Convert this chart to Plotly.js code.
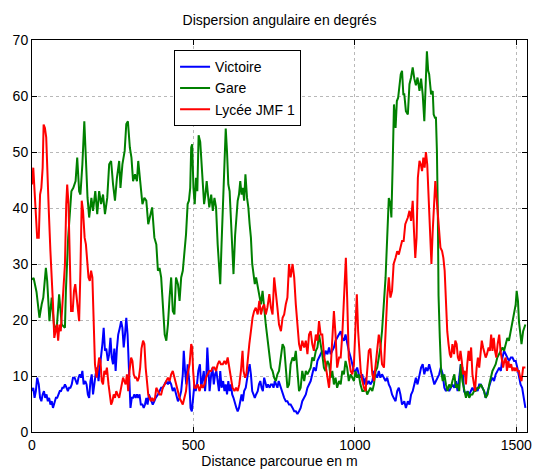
<!DOCTYPE html>
<html>
<head>
<meta charset="utf-8">
<script src="https://cdn.plot.ly/plotly-3.0.1.min.js"></script>
<style>html,body{margin:0;padding:0;background:#fff;}#chart{width:536px;height:470px;}</style>
</head>
<body>
<div id="chart"></div>
<script>
// Victoire (blue)
var xVictoire = [0,4,8,12,16,21,25,29,33,37,41,45,49,53,57,61,65,70,74,78,82,86,90,94,98,102,107,111,115,119,123,127,132,136,140,144,148,152,156,160,165,169,173,177,181,185,189,193,197,202,206,210,214,218,222,226,230,235,239,243,247,251,255,259,263,267,272,276,280,284,288,292,296,300,305,309,313,317,321,325,329,333,337,342,346,350,354,358,362,366,370,374,379,383,390,395,400,405,411,416,421,426,431,436,441,446,452,457,462,467,470,474,478,482,487,491,495,499,503,507,511,515,520,524,528,532,536,540,543,546,550,555,559,563,567,571,575,579,583,587,592,596,600,604,608,612,616,620,624,629,633,637,641,645,649,653,657,662,666,670,674,678,682,686,690,694,699,703,707,711,715,719,723,727,731,736,740,744,748,752,756,760,764,771,776,781,786,791,796,801,807,812,817,822,827,832,837,843,848,853,858,863,868,873,879,884,889,894,899,904,909,915,920,925,930,935,940,945,951,956,961,966,971,976,981,987,992,997,1002,1007,1012,1017,1023,1028,1033,1038,1043,1048,1054,1059,1064,1069,1074,1079,1084,1090,1095,1100,1105,1110,1115,1120,1126,1131,1136,1141,1146,1153,1158,1164,1169,1174,1179,1184,1189,1194,1200,1205,1210,1215,1220,1225,1230,1236,1241,1246,1251,1256,1261,1266,1272,1277,1282,1287,1292,1297,1302,1308,1313,1318,1323,1328,1333,1338,1344,1349,1354,1359,1364,1369,1374,1380,1385,1390,1395,1400,1405,1411,1416,1421,1426,1431,1436,1441,1447,1452,1457,1462,1467,1472,1477,1483,1488,1493,1498,1503,1508,1513,1518,1524,1528];
var yVictoire = [7.3,7.9,6.1,7.3,9.7,8.5,6.1,5.5,6.7,7.3,6.1,6.7,5.5,6.1,4.9,5.5,4.3,5.5,6.1,6.1,6.7,7.3,7.3,7.9,7.9,8.5,7.9,7.3,7.9,7.9,8.5,9.7,9.7,9.1,8.5,9.7,10.3,9.7,10.9,8.5,9.1,8.5,6.7,6.1,9.1,10.3,6.7,8.5,10.3,11.5,9.1,11.5,13.3,15.7,18.6,14.5,14.9,12.7,13.9,16.8,13.3,12.1,14.9,10.9,14.9,17.4,18.6,19.8,18.6,15.1,17.4,20.4,17.4,10.9,4.3,6.1,6.1,6.7,6.1,6.7,6.1,6.7,4.9,4.9,4.3,4.9,6.1,4.9,6.7,6.1,5.5,4.9,5.5,6.1,6.7,7.3,7.9,7.9,8.5,9.1,8.5,9.1,8.5,7.3,7.9,6.7,5.5,6.1,7.3,10.3,14.5,10.9,8.5,12.1,9.1,4.3,3.7,6.1,8.5,7.3,8.5,10.9,12.1,7.9,9.7,10.9,7.3,10.3,15.1,10.9,7.3,10.3,11.5,8.5,10.3,10.9,8.5,7.3,10.9,7.9,9.1,7.3,8.5,6.7,9.1,7.3,8.5,6.7,6.1,4.9,4.3,3.7,4.3,5.5,6.7,5.5,7.3,7.9,9.7,10.9,12.1,10.3,7.3,6.7,6.1,6.7,7.3,8.5,9.1,7.9,7.3,9.7,8.5,7.9,8.5,7.9,8.5,8.5,7.9,9.1,8.5,7.9,9.1,7.9,6.7,6.1,5.5,5.5,4.9,4.9,4.3,3.7,3.7,3.2,3.7,4.3,5.5,6.1,6.7,7.9,8.5,9.1,10.3,11.5,10.9,12.7,13.3,13.9,14.5,13.3,14.5,13.9,15.1,13.9,14.5,15.1,16.3,16.8,17.4,18,16.8,16.3,17.4,15.7,14.5,13.3,12.1,10.9,10.9,11.5,10.3,9.7,10.3,8.5,9.7,8.5,9.1,8.5,9.1,10.9,10.3,9.7,10.9,9.7,10.3,9.7,9.1,9.7,8.5,7.9,6.7,6.1,5.5,7.3,7.9,6.7,4.9,5.5,4.3,5.5,4.9,6.7,7.3,8.5,9.7,8.5,10.3,11.5,12.1,10.3,11.5,10.9,12.1,10.9,9.7,8.5,9.1,9.7,10.3,11.5,10.3,7.9,7.3,7.9,7.3,7.9,8.5,7.9,9.1,7.3,10.3,12.1,11.5,7.3,6.7,7.3,6.7,7.3,7.9,7.3,7.9,7.3,8.5,8.5,7.9,7.3,6.1,7.3,8.5,9.1,9.7,9.1,10.3,10.9,11.5,10.9,13.3,14.5,13.9,13.3,12.7,13.3,13.3,12.7,12.7,11.5,9.7,8.5,7.9,6.1,4.3];

// Gare (green)
var xGare = [0,5,14,23,30,35,43,47,54,61,68,76,84,92,102,105,112,117,122,128,135,140,146,150,156,162,167,172,177,184,189,196,202,208,214,220,226,233,239,245,251,257,263,270,274,280,287,292,297,303,308,313,319,325,329,335,342,348,354,360,366,372,379,385,390,395,400,405,411,416,421,426,431,436,441,446,452,457,462,467,472,477,482,486,490,493,496,500,504,508,512,516,521,525,529,533,537,541,545,549,555,560,565,570,575,580,583,587,592,596,600,604,608,612,616,620,624,629,633,637,641,645,649,653,657,661,666,670,674,678,682,686,690,694,699,704,709,714,719,724,729,735,740,745,750,755,760,765,771,776,781,786,791,796,801,807,812,817,822,827,832,837,843,848,853,858,863,868,873,879,884,889,894,899,904,909,915,920,925,930,935,940,945,951,956,961,966,971,976,981,987,992,997,1002,1007,1012,1017,1023,1028,1033,1038,1043,1048,1054,1059,1064,1069,1074,1079,1084,1090,1095,1100,1105,1110,1113,1117,1121,1126,1130,1134,1138,1142,1146,1150,1153,1158,1164,1169,1174,1179,1184,1189,1194,1200,1205,1210,1215,1220,1223,1227,1230,1236,1241,1244,1248,1251,1254,1257,1259,1263,1267,1272,1277,1282,1287,1292,1297,1302,1308,1313,1318,1323,1328,1333,1338,1344,1349,1354,1359,1364,1369,1374,1380,1385,1390,1395,1400,1405,1411,1416,1421,1426,1431,1436,1441,1447,1452,1457,1462,1467,1472,1477,1483,1488,1493,1498,1501,1505,1508,1513,1516,1521,1525,1528];
var yGare = [27.2,27.5,25,20.4,22.8,24,29.3,27,19.8,24,19.2,18,24.6,19.2,18.6,25.2,34.7,38.3,43,43.6,44.8,49,43,42.4,47.8,55.5,47.8,41.8,38.3,41.8,39.5,43,38.9,43,40.7,42.4,38.9,41.8,47.8,48.4,44.2,41.3,45.4,48.4,43.6,47.8,50.2,55,55.5,50.8,49,44.8,46,44.8,48.4,44.8,40.7,41.8,41.3,37.1,38.9,40.1,34.7,33.5,28.8,29.3,27.6,22.8,17.4,16.3,19.2,24,27.6,21.6,21,27.6,26.4,23.4,27.6,28.8,31.7,35.3,40.7,41.3,43.6,50.8,51.4,43.6,40.7,45.4,43,53,51.8,47.8,42.4,40.7,42.4,44.8,42.4,40.1,42.4,39.5,41.8,40.1,33.5,30,26.4,33.5,41.8,48.4,54.2,50,44.2,43,38.3,33.5,28.2,35.1,38,41.3,42.4,44.8,42.4,43.6,41.3,46,41.8,40.1,37.1,34.7,30,27.6,26.4,27.6,25.8,24,22.8,25.2,21.6,19.2,16.8,13.9,11.5,10.9,9.7,9.1,10.3,10.9,13.3,15.7,15.1,10.9,7.9,8.5,12.1,13.3,12.7,14.5,10.9,7.3,7.9,10.9,9.1,10.9,10.3,10.9,11.5,13.3,12.7,14.5,15.1,17.4,15.7,13.9,11.5,10.9,12.7,12.1,9.7,10.9,8.5,9.7,7.9,9.1,8.5,10.9,10.3,12.7,11.5,9.1,10.3,9.7,9.1,10.9,9.7,10.3,8.5,7.3,7.3,7.9,6.7,7.3,7.9,7.3,8.5,10.9,11.5,13.3,15.1,18,22.8,27.6,34.7,41.8,40.7,38.3,47.8,58.5,54.3,59.1,59.7,62.1,63.9,64.5,60.3,60.3,57.3,56.7,62.1,63.3,65.1,63.1,61.9,63.3,60.9,63.1,60.3,55.5,64.5,68,64.5,63.9,60.3,60.9,56.7,56.1,56.1,50.2,38.3,24.4,16.8,10.9,9.1,10.3,8.5,7.3,8.5,7.9,9.1,10.3,7.9,8.5,7.3,12.1,9.1,7.9,6.1,7.3,6.1,6.7,6.7,7.3,7.3,7.9,7.9,8.5,7.9,7.3,6.1,6.7,8.5,9.7,10.9,11.5,12.1,13.3,13.9,14.5,15.1,14.5,15.7,16.8,16.3,18,19.8,21,22.8,25.2,23.4,19.8,16.8,15.7,18,18.6,19.2];

// Lycée JMF 1 (red)
var xLycee = [0,4,8,12,16,21,25,29,33,36,40,44,48,52,57,61,65,69,73,77,81,85,89,94,98,102,106,109,113,117,121,126,130,134,138,142,146,150,154,158,163,167,171,175,179,183,187,191,195,200,204,208,212,216,220,224,228,232,237,241,245,249,253,257,261,265,270,274,278,282,286,290,294,298,302,307,311,315,319,323,327,331,335,339,344,348,352,356,360,364,368,372,376,381,385,390,395,400,405,411,416,421,426,431,436,441,446,452,457,462,467,472,477,482,488,493,496,499,503,508,513,519,524,529,534,539,544,549,555,560,565,570,575,580,585,591,596,601,606,611,616,621,627,632,637,642,647,652,655,660,664,668,673,678,683,688,693,699,704,709,714,719,724,729,735,740,745,750,755,760,765,771,776,781,786,791,796,801,807,812,817,822,827,832,837,843,848,853,858,863,868,873,879,884,889,894,899,904,909,915,920,925,930,935,940,945,951,956,961,966,969,972,976,981,987,992,997,1002,1006,1010,1014,1018,1023,1028,1033,1038,1043,1048,1054,1059,1064,1069,1074,1079,1084,1090,1095,1100,1105,1110,1115,1120,1126,1131,1136,1141,1146,1151,1156,1164,1169,1174,1179,1183,1187,1191,1195,1200,1204,1208,1212,1216,1220,1224,1228,1232,1237,1241,1245,1249,1253,1257,1261,1265,1270,1274,1278,1282,1286,1290,1294,1298,1302,1307,1311,1315,1319,1323,1327,1331,1335,1340,1344,1348,1352,1356,1360,1364,1368,1372,1377,1381,1385,1389,1393,1397,1401,1405,1409,1414,1418,1422,1426,1430,1434,1438,1442,1447,1451,1455,1459,1463,1467,1471,1475,1479,1484,1488,1492,1496,1500,1504,1508,1512,1516,1521,1525,1528];
var yLycee = [44.2,47.2,43,38.9,34.7,34.7,42.4,43.6,47.2,54.9,54.3,52.6,44.8,39.5,32.3,28.2,22.8,16.8,18,19.2,16.3,19.2,18,22.8,25.2,29.9,40.7,44.2,40.7,28.8,21.6,21.6,25.2,26.4,24,22.8,19.8,28.8,41.3,39.5,34.7,33.5,29.9,27.6,27,28.8,27.6,19.8,12.1,9.7,11.5,13.3,12.7,9.1,8.5,10.9,10.3,11.5,8.5,6.1,4.9,5.5,6.7,6.1,7.3,6.7,6.1,7.3,8.5,9.7,9.1,8.5,10.3,7.3,10.9,13.3,12.7,10.3,9.7,9.7,9.1,9.7,11.5,14.9,16.3,15.7,11.5,8.5,6.7,6.1,5.5,6.1,5.5,6.1,7.9,7.3,6.7,6.7,7.9,8.5,9.1,9.7,9.1,10.3,10.9,9.7,8.5,7.3,6.1,5.5,4.9,6.1,7.3,10.3,12.1,15.7,15.1,10.9,7.9,7.9,8.5,7.3,8.5,7.9,8.5,9.7,10.3,10.9,10.9,11.5,11.5,10.9,12.1,12.7,12.1,12.1,12.7,12.1,13.3,11.5,10.3,7.9,7.3,7.9,7.3,8.5,10.9,14.5,10.9,9.7,10.3,13.3,15.7,18,20.4,21.6,22.2,21,23.4,21,22.2,22.8,21,22.2,24.6,22.2,21,27.6,25.2,22.2,19.2,18,20.4,21,22.8,24,30,27.6,30,27.6,22.8,19.2,15.7,14.5,16.3,15.1,16.3,13.9,17.4,18,15.7,14.5,17.4,16.3,19.8,17.4,17.4,13.9,12.1,9.1,7.9,11.5,17.4,21.6,17.4,11.5,13.3,13.3,17.4,24,30,31.1,24,13.3,10.9,10.3,12.1,20.4,24.6,18,14.5,10.9,9.1,7.9,7.3,11.5,14.5,14.9,10.3,9.1,12.1,15.1,17.4,15.7,12.1,11.5,18,24,27.6,24,25.2,30,31.1,32.3,31.7,32.9,34.1,34.1,37.1,38.3,39.5,37.7,41.3,35.9,31.1,34.7,45.4,48.4,47.8,46.6,49,47.2,50,47.8,41.8,37.1,30,35.9,40.7,44.8,41.8,38.3,34.7,32.9,32.3,31.1,28.8,22.8,18,15.7,13.9,13.3,15.7,13.9,16.3,15.7,13.3,12.7,14.5,12.7,10.3,10.9,8.5,12.1,14.5,12.7,15.1,10.3,8.5,7.3,11.5,13.3,11.5,14.5,16.3,15.1,13.9,13.3,13.9,15.1,14.5,17.4,14.5,16.8,14.5,13.3,15.7,17.4,14.5,13.3,11.5,12.7,13.3,10.9,12.7,11.5,12.1,10.9,11.5,10.9,11.5,10.9,10.9,9.7,9.1,11.5,11.5,11.5];

var seriesNames = ["Victoire", "Gare", "Lycée JMF 1"];
var xTicks = [0, 500, 1000, 1500];
var yTicks = [0, 10, 20, 30, 40, 50, 60, 70];

var colors = ["#0000ff", "#008000", "#ff0000"];
var xs = [xVictoire, xGare, xLycee];
var ys = [yVictoire, yGare, yLycee];
var traces = xs.map(function (x, i) {
  return {
    x: x, y: ys[i], name: seriesNames[i], type: "scatter", mode: "lines",
    line: { color: colors[i], width: 2 }
  };
});

var font = "Liberation Sans, Arial, Helvetica, sans-serif";
var axisCommon = {
  showline: true, linecolor: "#000", linewidth: 1, mirror: "ticks",
  ticks: "inside", ticklen: 5, tickcolor: "#000",
  showgrid: true, gridcolor: "#b8b8b8", griddash: "dot", gridwidth: 1,
  zeroline: false, tickfont: { family: font, size: 14, color: "#000" }
};
var layout = {
  width: 536, height: 470,
  margin: { l: 32, r: 9, t: 40, b: 38 },
  paper_bgcolor: "#fff", plot_bgcolor: "#fff",
  font: { family: font, size: 14, color: "#000" },
  title: { text: "Dispersion angulaire en degrés", font: { family: font, size: 14, color: "#000" },
           x: 0.5, xref: "paper", y: 1 - 20 / 470, yanchor: "middle" },
  xaxis: Object.assign({}, axisCommon, {
    range: [0, 1533], tickvals: xTicks,
    title: { text: "Distance parcourue en m", font: { family: font, size: 14, color: "#000" }, standoff: 0 }
  }),
  yaxis: Object.assign({}, axisCommon, { range: [0, 70], tickvals: yTicks }),
  legend: {
    x: 0.287, y: 0.974, xanchor: "left", yanchor: "top",
    bgcolor: "#fff", bordercolor: "#000", borderwidth: 1, itemwidth: 30,
    font: { family: font, size: 14, color: "#000" }, tracegroupgap: 0
  },
  showlegend: true
};
Plotly.newPlot("chart", traces, layout, { displayModeBar: false, staticPlot: true });
</script>
</body>
</html>
